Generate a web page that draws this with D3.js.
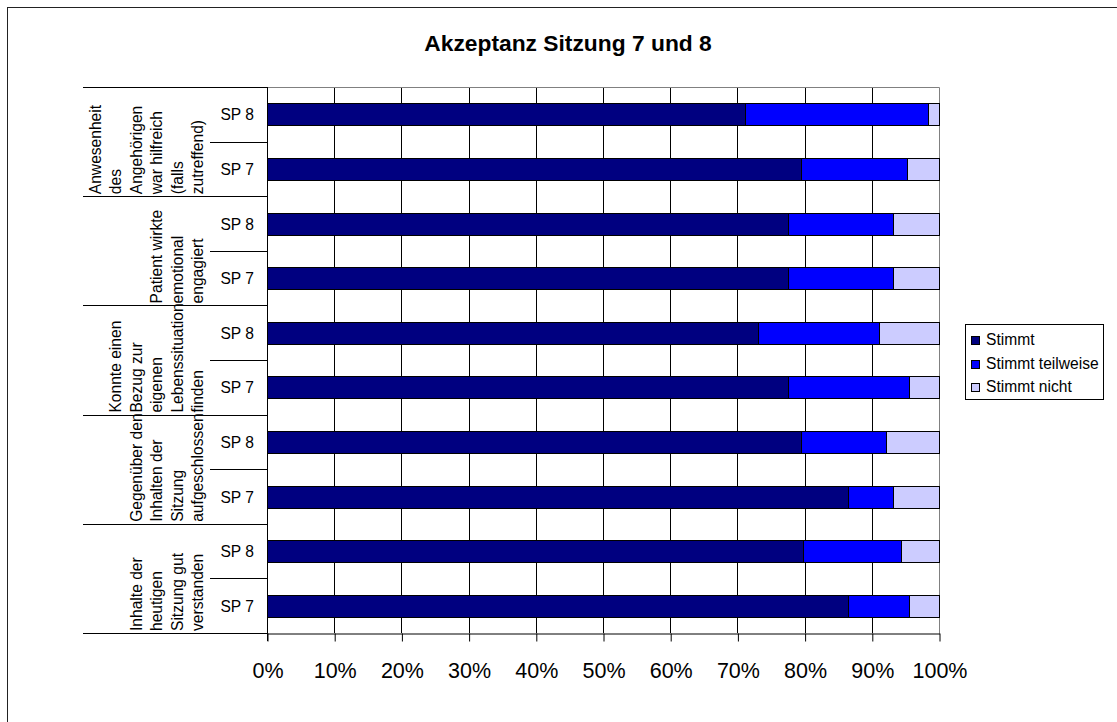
<!DOCTYPE html>
<html>
<head>
<meta charset="utf-8">
<script src="https://d3js.org/d3.v7.min.js"></script>
<style>
  html, body { margin: 0; padding: 0; background: #fff; }
  svg { display: block; font-family: "Liberation Sans", Arial, sans-serif; }
</style>
</head>
<body>
<svg id="chart" width="1117" height="722"></svg>
<script>
// Survey items (top to bottom), each split into two sessions
const groups = [
  ["Anwesenheit", "des", "Angehörigen", "war hilfreich", "(falls", "zutreffend)"],
  ["Patient wirkte", "emotional", "engagiert"],
  ["Konnte einen", "Bezug zur", "eigenen", "Lebenssituation", "finden"],
  ["Gegenüber den", "Inhalten der", "Sitzung", "aufgeschlossen"],
  ["Inhalte der", "heutigen", "Sitzung gut", "verstanden"]
];
const sessions = ["SP 8", "SP 7"];

// Shares in percent, one entry per row (item x session, top to bottom)
const stimmt          = [71.2, 79.5, 77.6, 77.6, 73.1, 77.6, 79.4, 86.5, 79.8, 86.5];
const stimmtTeilweise = [27.1, 15.7, 15.6, 15.6, 18.0, 18.0, 12.7,  6.7, 14.6,  9.1];
const stimmtNicht     = [ 1.7,  4.8,  6.8,  6.8,  8.9,  4.4,  7.9,  6.8,  5.6,  4.4];

const seriesNames = ["Stimmt", "Stimmt teilweise", "Stimmt nicht"];
const seriesColors = ["#000080", "#0000FF", "#CCCCFF"];
const xTicks = [0, 10, 20, 30, 40, 50, 60, 70, 80, 90, 100];

const svg = d3.select("#chart");

// outer chart frame
svg.append("rect")
  .attr("x", 7.5).attr("y", 7.5)
  .attr("width", 1300).attr("height", 900)
  .attr("fill", "none").attr("stroke", "#222").attr("stroke-width", 1);

// title
svg.append("text")
  .attr("x", 568).attr("y", 51)
  .attr("text-anchor", "middle")
  .attr("font-size", 22.8).attr("font-weight", "bold")
  .text("Akzeptanz Sitzung 7 und 8");

const plot = { left: 267, right: 939, top: 87, bottom: 633 };

const rows = [];
groups.forEach((g, gi) => sessions.forEach((s, si) => rows.push({ id: gi + "-" + si, gi, s })));
rows.forEach((r, i) => {
  r.values = [stimmt[i], stimmtTeilweise[i], stimmtNicht[i]];
});

const x = d3.scaleLinear().domain([0, 100]).range([plot.left, plot.right]);
const y = d3.scaleBand().domain(rows.map(r => r.id))
  .range([plot.top, plot.bottom]).paddingInner(0.6).paddingOuter(0.3);
const yGroup = d3.scaleBand().domain(groups.map((g, i) => i))
  .range([plot.top, plot.bottom]).padding(0);

const crisp = v => Math.round(v) + 0.5;

// vertical gridlines
svg.append("g").selectAll("line")
  .data(xTicks.filter(t => t > 0 && t < 100))
  .join("line")
  .attr("x1", d => crisp(x(d))).attr("x2", d => crisp(x(d)))
  .attr("y1", plot.top).attr("y2", plot.bottom)
  .attr("stroke", "#000").attr("stroke-width", 1);

// plot area frame (top and right)
svg.append("path")
  .attr("d", `M${crisp(plot.left)},${crisp(plot.top)}H${crisp(plot.right)}V${crisp(plot.bottom)}`)
  .attr("fill", "none").attr("stroke", "#808080").attr("stroke-width", 1);

// stacked bars
const stackG = svg.append("g");
rows.forEach(r => {
  let acc = 0;
  r.values.forEach((v, k) => {
    const x0 = x(acc), x1 = x(acc + v);
    stackG.append("rect")
      .attr("x", Math.round(x0) + 0.5)
      .attr("y", Math.round(y(r.id)) + 0.5)
      .attr("width", Math.max(0, Math.round(x1) - Math.round(x0)))
      .attr("height", Math.round(y.bandwidth()))
      .attr("fill", seriesColors[k])
      .attr("stroke", "#000").attr("stroke-width", 1);
    acc += v;
  });
});

// value axis
const xAxis = d3.axisBottom(x)
  .tickValues(xTicks)
  .tickFormat(d => d + "%")
  .tickSize(8).tickSizeOuter(0).tickPadding(21);
const xg = svg.append("g")
  .attr("transform", `translate(0.5,${crisp(plot.bottom)})`)
  .call(xAxis);
xg.select(".domain").attr("stroke", "#000");
xg.selectAll(".tick line").attr("stroke", "#000");
xg.selectAll(".tick text")
  .attr("font-family", "Liberation Sans, Arial, sans-serif")
  .attr("font-size", 21.5).attr("fill", "#000");

// category axis line
svg.append("line")
  .attr("x1", crisp(plot.left)).attr("x2", crisp(plot.left))
  .attr("y1", plot.top).attr("y2", plot.bottom + 8)
  .attr("stroke", "#000");

// group dividers (outer level) and session dividers (inner level)
const catG = svg.append("g").attr("stroke", "#000").attr("stroke-width", 1);
const groupEdges = groups.map((g, i) => yGroup(i)).concat([plot.bottom]);
catG.selectAll("line.grp").data(groupEdges).join("line")
  .attr("class", "grp")
  .attr("x1", 83).attr("x2", plot.left)
  .attr("y1", d => crisp(d)).attr("y2", d => crisp(d));
catG.selectAll("line.ses").data(groups.map((g, i) => yGroup(i) + yGroup.bandwidth() / 2)).join("line")
  .attr("class", "ses")
  .attr("x1", 210).attr("x2", plot.left)
  .attr("y1", d => crisp(d)).attr("y2", d => crisp(d));

// session labels
svg.append("g").selectAll("text").data(rows).join("text")
  .attr("x", 254)
  .attr("y", r => y(r.id) + y.bandwidth() / 2 + 6)
  .attr("text-anchor", "end")
  .attr("font-size", 15.6)
  .text(r => r.s);

// item labels, rotated, one line per column
const lineStep = 20.4, lastBaseline = 203;
groups.forEach((lines, gi) => {
  const yStart = yGroup(gi) + yGroup.bandwidth() - 2;
  lines.forEach((ln, j) => {
    const bx = lastBaseline - (lines.length - 1 - j) * lineStep;
    svg.append("text")
      .attr("transform", `translate(${bx},${yStart}) rotate(-90)`)
      .attr("text-anchor", "start")
      .attr("font-size", 15.6)
      .text(ln);
  });
});

// legend
const lg = svg.append("g");
lg.append("rect")
  .attr("x", 965.5).attr("y", 324.5).attr("width", 138).attr("height", 75)
  .attr("fill", "#fff").attr("stroke", "#000");
seriesNames.forEach((name, k) => {
  const by = 345 + k * 23.5;
  lg.append("rect")
    .attr("x", 971.5).attr("y", Math.round(by - 9) + 0.5)
    .attr("width", 8).attr("height", 8)
    .attr("fill", seriesColors[k]).attr("stroke", "#000");
  lg.append("text")
    .attr("x", 986).attr("y", by)
    .attr("font-size", 15.6)
    .text(name);
});
</script>
</body>
</html>
